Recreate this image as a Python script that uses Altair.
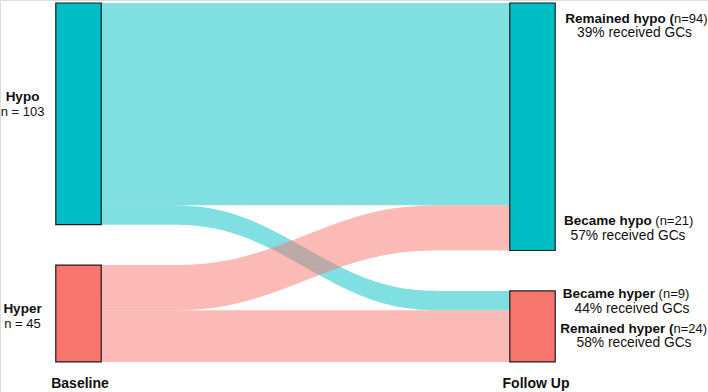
import altair as alt
import pandas as pd
import numpy as np

# ---------------- data ----------------
stages = ["Baseline", "Follow Up"]
states = ["Hypo", "Hyper"]
baseline_n = [103, 45]
followup_n = [115, 33]
flow_from = ["Hypo", "Hypo", "Hyper", "Hyper"]
flow_to = ["Hypo", "Hyper", "Hypo", "Hyper"]
flow_n = [94, 9, 21, 24]
flow_name = ["Remained hypo", "Became hyper", "Became hypo", "Remained hyper"]
flow_gc_pct = [39, 44, 57, 58]

state_colors = ["#00BFC4", "#F8766D"]

# ---------------- layout ----------------
W, H = 708, 392
GAP = 18.8          # gap between strata (count units)
PX = 2.152          # pixels per count unit
TOP = 3.0           # top offset in px
X_L, X_R = 78.5, 532.5
UNIT_X = X_R - X_L
BAR_W = 0.1
FONT = "Liberation Sans"
color_of = dict(zip(states, state_colors))

xdom = [1 - X_L / UNIT_X, 1 + (W - X_L) / UNIT_X]
ydom = [-TOP / PX, (H - TOP) / PX]


def xd(px):
    return 1 + (px - X_L) / UNIT_X


def yd(px):
    return (px - TOP) / PX


xs = alt.Scale(domain=xdom, nice=False, zero=False)
ys = alt.Scale(domain=ydom, nice=False, zero=False, reverse=True)
col = alt.Scale(domain=states, range=state_colors)

# strata rectangles
rows = []
for si, counts in enumerate([baseline_n, followup_n]):
    pos = 0.0
    for st, c in zip(states, counts):
        rows.append(dict(stage=stages[si], state=st, x=si + 1 - BAR_W / 2, x2=si + 1 + BAR_W / 2,
                         y=pos, y2=pos + c))
        pos += c + GAP
bars = pd.DataFrame(rows)

# flows: stacking positions inside strata
left_off, right_off = {}, {}
pos = 0.0
for st, c in zip(states, baseline_n):
    left_off[st] = pos
    pos += c + GAP
pos = 0.0
for st, c in zip(states, followup_n):
    right_off[st] = pos
    pos += c + GAP

left_pos = {}
for st in states:
    for i in range(len(flow_n)):
        if flow_from[i] == st:
            left_pos[i] = left_off[st]
            left_off[st] += flow_n[i]
right_pos = {}
for st in states:
    for i in range(len(flow_n)):
        if flow_to[i] == st:
            right_pos[i] = right_off[st]
            right_off[st] += flow_n[i]


def ease(t):
    u = np.clip((t - 0.15) / 0.7, 0, 1)
    return u * u * u * (u * (u * 6 - 15) + 10)


t = np.linspace(0, 1, 121)
x0, x1 = 1 + BAR_W / 2, 2 - BAR_W / 2
flow_layers = []
for i in range(len(flow_n)):
    a, b = left_pos[i], right_pos[i]
    s = ease(t)
    top = a + (b - a) * s
    df = pd.DataFrame({
        "x": (x0 + (x1 - x0) * t).astype(float),
        "y": top.astype(float),
        "y2": (top + flow_n[i]).astype(float),
    })
    flow_layers.append(
        alt.Chart(df).mark_area(opacity=0.5, color=color_of[flow_from[i]]).encode(
            x=alt.X("x:Q", scale=xs, axis=None),
            y=alt.Y("y:Q", scale=ys, axis=None, stack=None),
            y2="y2:Q",
        )
    )

bar_layer = alt.Chart(bars).mark_rect(stroke="#1a1a1a", strokeWidth=1.2).encode(
    x=alt.X("x:Q", scale=xs, axis=None),
    x2="x2:Q",
    y=alt.Y("y:Q", scale=ys, axis=None),
    y2="y2:Q",
    fill=alt.Fill("state:N", scale=col, legend=None),
)

# labels
lab = []
left_lab_px = {"Hypo": (101, 116), "Hyper": (313, 328)}
for st, c in zip(states, baseline_n):
    p1, p2 = left_lab_px[st]
    lab.append(dict(x=xd(22.5), y=yd(p1), text=st, w="bold", a="center", s=13.5))
    lab.append(dict(x=xd(22.5), y=yd(p2), text=f"n = {c}", w="normal", a="center", s=13))

right_px = {
    "Remained hypo": dict(split=674, gapx=0, y1=22.7, cx=634.5, y2=36.5, paren=True),
    "Became hypo": dict(split=651.7, gapx=3.6, y1=225, cx=628, y2=239.5, paren=False),
    "Became hyper": dict(split=655, gapx=3.6, y1=298.3, cx=632, y2=312.5, paren=False),
    "Remained hyper": dict(split=673.5, gapx=0, y1=333.3, cx=634, y2=347, paren=True),
}
for name, n, pct in zip(flow_name, flow_n, flow_gc_pct):
    L = right_px[name]
    if L["paren"]:
        bold_t, norm_t = f"{name} (", f"n={n})"
    else:
        bold_t, norm_t = name, f"(n={n})"
    lab.append(dict(x=xd(L["split"]), y=yd(L["y1"]), text=bold_t, w="bold", a="right", s=13.5))
    lab.append(dict(x=xd(L["split"] + L["gapx"]), y=yd(L["y1"]), text=norm_t, w="normal", a="left", s=13))
    lab.append(dict(x=xd(L["cx"]), y=yd(L["y2"]), text=f"{pct}% received GCs", w="normal", a="center", s=13.8))

lab.append(dict(x=xd(80), y=yd(387.5), text=stages[0], w="bold", a="center", s=14))
lab.append(dict(x=xd(536), y=yd(387.5), text=stages[1], w="bold", a="center", s=14))
labels = pd.DataFrame(lab)

text_layers = []
for (w, a, s), sub in labels.groupby(["w", "a", "s"]):
    text_layers.append(
        alt.Chart(sub.reset_index(drop=True)).mark_text(
            font=FONT, fontSize=float(s), fontWeight=w, align=a,
            baseline="alphabetic", color="#111111").encode(
            x=alt.X("x:Q", scale=xs, axis=None),
            y=alt.Y("y:Q", scale=ys, axis=None),
            text="text:N",
        )
    )

chart = alt.layer(*flow_layers, bar_layer, *text_layers).properties(
    width=W, height=H, padding=0, autosize="none"
).configure_view(stroke=None).configure(background="white")

chart.save("out.html", embed_options={"renderer": "svg", "actions": False})
